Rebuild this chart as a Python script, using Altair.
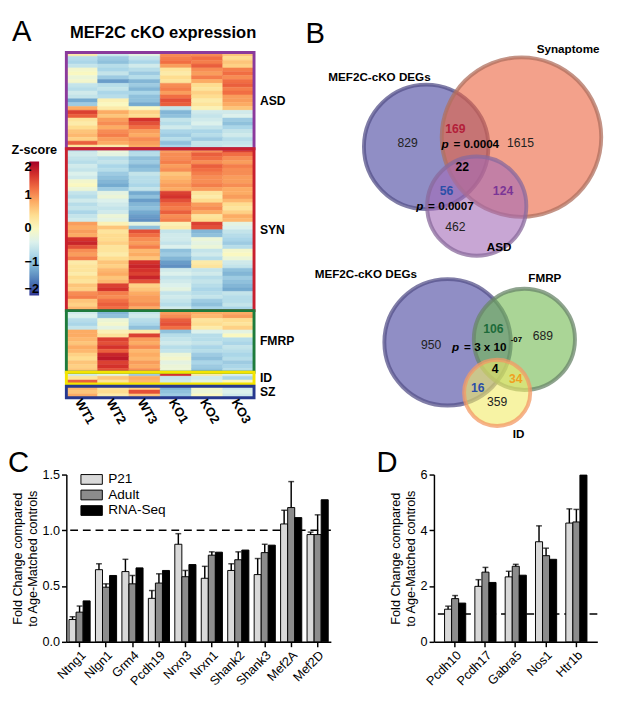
import altair as alt
import pandas as pd

FONT = "Liberation Sans"

# ---------------- Panel A: heatmap ----------------
samples = ["WT1", "WT2", "WT3", "KO1", "KO2", "KO3"]
block_names = ["ASD", "SYN", "FMRP", "ID", "SZ"]
block_colors = ["#8b3a9c", "#c8202e", "#1e7b3c", "#f4e400", "#27398f"]
block_gap_after = [0, 0, 0, 0.6, 0]

asd_z = [
    [0.2, -0.5, -0.3, 1.0, 1.0, 0.6],
    [-0.7, -0.9, -0.6, 1.1, 1.2, 0.4],
    [-0.8, -1.0, -0.8, 1.2, 1.1, 0.6],
    [-0.6, -0.7, -0.5, 0.9, 1.3, 0.5],
    [-0.1, -0.8, -0.7, 0.3, 1.0, 1.1],
    [0.0, -0.6, -0.9, 0.2, 0.9, 1.2],
    [-0.2, -0.9, -0.7, 0.4, 1.1, 1.0],
    [-0.1, -1.3, -1.1, 0.3, 0.8, 1.2],
    [-0.6, -0.7, -0.9, 1.0, 0.4, 1.3],
    [-0.7, -0.6, -1.1, 1.1, 0.3, 1.1],
    [-0.5, -0.8, -0.8, 0.9, 0.5, 1.2],
    [-0.6, -0.7, -1.0, 1.2, 0.4, 0.9],
    [-1.2, 0.1, -1.0, 1.4, 0.2, 0.9],
    [-0.9, 0.0, -1.2, 1.3, 0.3, 0.8],
    [0.8, 0.2, 0.0, -0.6, 0.1, 0.6],
    [1.5, 0.8, 0.5, -1.1, -0.5, -0.5],
    [1.3, 0.6, 0.4, -1.0, -0.6, -0.4],
    [0.3, 0.9, 1.6, -0.6, -0.5, -0.9],
    [0.2, 1.0, 1.4, -0.7, -0.4, -1.0],
    [0.4, 0.8, 1.2, -0.5, -0.6, -0.8],
    [0.6, 1.0, 0.9, -0.8, -0.8, -0.6],
    [0.7, 1.1, 0.8, -0.9, -0.7, -0.5],
    [0.5, 0.9, 1.0, -0.7, -0.9, -0.7],
    [1.3, 0.8, 0.9, -1.0, -0.6, -0.6],
    [0.3, 0.2, 0.8, -0.8, -0.6, -0.5],
]
syn_z = [
    [-0.6, -0.2, -0.8, 0.9, 1.0, 1.5],
    [-0.5, -0.3, -0.7, 1.0, 1.3, 1.2],
    [-0.6, -0.7, -1.0, 1.0, 1.2, 1.0],
    [-0.7, -0.6, -0.9, 1.1, 1.0, 0.9],
    [-0.5, -0.8, -1.1, 0.9, 1.3, 1.1],
    [-0.6, -0.7, -1.0, 1.0, 1.2, 1.0],
    [-0.4, -0.9, -0.6, 0.6, 1.1, 1.0],
    [-0.5, -1.0, -0.7, 0.7, 1.0, 0.9],
    [-0.1, -1.1, -0.7, 0.8, 1.0, 0.9],
    [0.0, -1.2, -0.8, 0.9, 1.1, 1.0],
    [-0.2, -0.9, -0.6, 0.8, 0.9, 0.8],
    [-0.6, -0.3, -1.2, 1.5, 0.3, 0.8],
    [-0.7, -0.2, -1.0, 1.6, 0.2, 0.9],
    [-0.5, -0.4, -1.3, 1.4, 0.4, 0.7],
    [-0.7, -0.5, -1.1, 1.2, 0.9, 0.4],
    [-0.6, -0.6, -1.0, 1.1, 1.0, 0.3],
    [-0.8, -0.5, -1.2, 1.3, 0.8, 0.5],
    [-0.6, -0.2, -1.3, 1.0, 0.3, 0.8],
    [-0.5, -0.3, -1.4, 1.1, 0.4, 0.7],
    [0.9, 0.1, -0.3, 0.1, 1.5, -0.3],
    [0.8, 0.6, -1.0, 0.2, 1.4, -0.4],
    [0.9, 0.3, 1.4, -0.6, -1.1, -0.6],
    [0.8, 0.4, 1.2, -0.5, -1.0, -0.7],
    [1.6, 0.4, 1.0, -0.5, -0.2, -0.8],
    [1.7, 0.5, 0.9, -0.6, -0.3, -0.9],
    [1.4, 0.3, 1.1, -0.4, -0.2, -0.7],
    [1.0, 0.3, 0.7, -1.0, -0.6, -0.1],
    [0.9, 0.2, 0.8, -0.9, -0.5, 0.0],
    [1.1, 0.4, 0.6, -1.1, -0.7, -0.2],
    [0.2, 0.6, 1.6, -1.3, 0.2, -0.5],
    [0.3, 0.5, 1.7, -1.4, 0.3, -0.6],
    [0.3, 0.7, 1.6, -0.5, -0.6, -1.0],
    [0.2, 0.8, 1.5, -0.4, -0.5, -1.1],
    [0.4, 0.6, 1.7, -0.6, -0.7, -0.9],
    [0.3, 0.7, 1.4, -0.5, -0.6, -1.0],
    [0.6, 1.5, 0.5, -0.4, -0.7, -1.1],
    [0.5, 1.6, 0.6, -0.3, -0.8, -1.2],
    [1.0, 1.1, 0.8, -0.6, -0.7, -0.6],
    [1.1, 1.0, 0.9, -0.5, -0.6, -0.7],
    [0.6, 1.2, 0.9, -0.6, -0.9, -0.7],
    [0.5, 1.3, 1.0, -0.7, -1.0, -0.6],
    [0.7, 1.2, 0.8, -0.5, -0.8, -0.8],
]
fmrp_z = [
    [-0.5, -1.1, -0.6, 0.9, 0.8, 0.8],
    [-0.4, -1.0, -0.5, 1.0, 0.7, 0.9],
    [-0.7, -0.2, -0.7, 1.3, 0.3, 0.4],
    [-0.8, -0.1, -0.8, 1.4, 0.4, 0.3],
    [-0.6, -0.3, -1.0, 1.2, 0.2, 0.5],
    [0.8, 0.1, 0.2, -1.0, -0.4, -0.3],
    [0.8, 0.3, 1.5, -0.7, -0.7, 0.0],
    [0.7, 1.5, 0.9, -0.6, -0.7, -0.7],
    [0.6, 1.4, 0.8, -0.5, -0.6, -0.8],
    [0.8, 1.6, 1.0, -0.7, -0.8, -0.6],
    [0.7, 1.3, 0.7, -0.6, -0.7, -0.7],
    [0.5, 1.7, 0.8, -0.2, -0.9, -0.8],
    [0.4, 1.8, 0.7, -0.1, -1.0, -0.7],
    [0.6, 1.5, 0.9, -0.3, -0.8, -0.9],
    [0.5, 1.6, 0.8, -0.2, -0.9, -0.8],
    [0.6, 1.4, 1.0, -0.2, -1.0, -0.7],
]
id_z = [
    [-0.5, -0.3, -0.9, 1.6, 0.2, -0.4],
    [0.3, 0.6, 0.8, -0.6, -0.5, -0.8],
    [1.3, 0.3, 0.7, -0.5, -0.3, 0.0],
]
sz_z = [
    [0.7, 0.3, 0.5, -1.1, -0.1, -0.5],
    [0.6, 0.4, 1.4, -1.0, -0.2, -0.4],
    [0.8, 0.2, 0.6, -0.9, 0.0, -0.5],
]

# ---------------- Panel B: Venn diagrams ----------------
venn_sets = ["MEF2C-cKO DEGs", "Synaptome", "ASD", "MEF2C-cKO DEGs", "FMRP", "ID"]
venn_cx = [433, 531, 485, 455, 534, 506]
venn_cy = [134, 124, 195, 335, 332, 387]
venn_r = [66, 84, 53, 67, 54, 36]
venn_fill = ["#46429f", "#eb633e", "#a36bb7", "#46429f", "#72b950", "#f2eb67"]
venn_stroke = ["#55528a", "#b0705f", "#8a6a9c", "#55528a", "#6a866a", "#f39a66"]

venn_counts = ["829", "1615", "462", "950", "689", "359"]
venn_counts_x = [414, 530, 463, 438, 553, 506]
venn_counts_y = [130, 130, 217, 338, 329, 397]

venn_overlaps = ["169", "22", "56", "124", "106", "4", "34", "16"]
venn_overlaps_x = [463, 470, 454, 512, 502, 504, 525, 486]
venn_overlaps_y = [116, 155, 180, 180, 321, 363, 373, 382]
venn_overlaps_color = ["#b3203a", "#000000", "#2b4fa8", "#7b3596", "#1d6b3a", "#000000", "#f0a020", "#2b4fa8"]

venn_labels = ["MEF2C-cKO DEGs", "Synaptome", "ASD", "MEF2C-cKO DEGs", "FMRP", "ID"]
venn_labels_x = [385, 579, 508, 371, 555, 528]
venn_labels_y = [62, 33, 237, 265, 269, 429]

pvals_rest = ["= 0.0004", "= 0.0007", "= 3 x 10"]
pvals_p_x = [456, 430, 467]
pvals_rest_x = [461, 435, 472]
pvals_y = [131, 195, 340]
pval_exponent = "-07"
pval_exponent_x = 520
pval_exponent_y = 337

# ---------------- Panels C and D: qPCR bars ----------------
series_names = ["P21", "Adult", "RNA-Seq"]
series_fill = ["#d9d9d9", "#8c8c8c", "#000000"]

genes_c = ["Ntng1", "Nlgn1", "Grm4", "Pcdh19", "Nrxn3", "Nrxn1", "Shank2", "Shank3", "Mef2A", "Mef2D"]
p21_c = [0.20, 0.647, 0.63, 0.39, 0.875, 0.57, 0.64, 0.603, 1.057, 0.962]
p21_err_c = [0.025, 0.053, 0.11, 0.07, 0.095, 0.107, 0.06, 0.144, 0.123, 0.022]
adult_c = [0.266, 0.49, 0.52, 0.527, 0.584, 0.777, 0.736, 0.80, 1.204, 0.962]
adult_err_c = [0.055, 0.03, 0.075, 0.083, 0.056, 0.03, 0.071, 0.075, 0.233, 0.177]
rnaseq_c = [0.367, 0.595, 0.663, 0.64, 0.693, 0.804, 0.823, 0.867, 1.114, 1.274]

genes_d = ["Pcdh10", "Pcdh17", "Gabra5", "Nos1", "Htr1b"]
p21_d = [1.17, 1.99, 2.33, 3.59, 4.26]
p21_err_d = [0.11, 0.24, 0.20, 0.57, 0.51]
adult_d = [1.55, 2.50, 2.71, 3.09, 4.30]
adult_err_d = [0.11, 0.17, 0.07, 0.27, 0.45]
rnaseq_d = [1.39, 2.13, 2.39, 2.96, 5.98]

reference_fold = 1.0
y_title = ["Fold Change compared", "to Age-Matched controls"]

HEAT_W, HEAT_H = 193, 355
BAR_H = 172


def text_at(txt, dx, dy, size=30, weight="normal", align="left"):
    return alt.Chart(pd.DataFrame({"t": [txt]})).mark_text(
        fontSize=size, font=FONT, align=align, baseline="alphabetic", color="black",
        fontWeight=weight,
    ).encode(x=alt.value(dx), y=alt.value(dy), text="t:N")


# ---- build panel A ----
heat_rows, border_rows = [], []
r = 0
blocks = [asd_z, syn_z, fmrp_z, id_z, sz_z]
for name, color, block, gap in zip(block_names, block_colors, blocks, block_gap_after):
    start = r
    for vals in block:
        for j, v in enumerate(vals):
            heat_rows.append({"sample": samples[j], "r0": r, "r1": r + 1, "z": v})
        r += 1
    border_rows.append({"block": name, "color": color, "b0": start, "b1": r,
                        "mid": (start + r) / 2})
    r += gap
n_rows = r
heat_df = pd.DataFrame(heat_rows)
border_df = pd.DataFrame(border_rows)

ys = alt.Scale(domain=[0, n_rows], reverse=True, nice=False, zero=False)
zscale = alt.Scale(scheme="redyellowblue", reverse=True, domain=[-2, 2])

cells = alt.Chart(heat_df).mark_rect(strokeWidth=0.5).encode(
    x=alt.X("sample:N", sort=samples, scale=alt.Scale(paddingInner=0, paddingOuter=0),
            axis=alt.Axis(labelAngle=60, labelAlign="left", labelBaseline="middle",
                          labelFontSize=13, labelFontWeight="bold", labelFont=FONT,
                          labelPadding=2, labelOffset=-4, domain=False, ticks=False,
                          title=None, labelOverlap=False, labelBound=False, grid=False)),
    y=alt.Y("r0:Q", scale=ys, axis=None),
    y2="r1:Q",
    color=alt.Color("z:Q", scale=zscale, legend=alt.Legend(
        title="Z-score", orient="none", legendX=-56, legendY=94,
        gradientLength=138, gradientThickness=10, gradientStrokeWidth=0,
        values=[2, 1, 0, -1, -2], labelOffset={"expr": "-15"}, labelAlign="right",
        labelFontSize=13, labelFontWeight="bold", labelFont=FONT,
        titleFontSize=13, titleFontWeight="bold", titleFont=FONT,
        titleAnchor="middle", titlePadding=5, direction="vertical")),
    stroke=alt.Stroke("z:Q", scale=zscale, legend=None),
)

borders = alt.Chart(border_df).mark_rect(filled=False, strokeWidth=3).encode(
    x=alt.value(0), x2=alt.value(HEAT_W), y="b0:Q", y2="b1:Q",
    stroke=alt.Stroke("color:N", scale=None),
)

block_text = alt.Chart(border_df).mark_text(
    align="left", baseline="middle", dx=6, fontSize=12.5, fontWeight="bold", font=FONT, color="black"
).encode(x=alt.value(HEAT_W), y="mid:Q", text="block:N")

panel_a = alt.layer(
    cells, borders, block_text,
    text_at("A", -56, -12),
    text_at("MEF2C cKO expression", HEAT_W / 2 + 3, -15, size=17, weight="bold", align="center"),
).resolve_scale(stroke="independent").properties(width=HEAT_W, height=HEAT_H)

# ---- build panel B ----
circ_df = pd.DataFrame({
    "set": venn_sets, "cx": venn_cx, "cy": venn_cy,
    "size": [(2 * (rr - 2)) ** 2 for rr in venn_r],
    "fill": venn_fill, "stroke": venn_stroke,
})
vx = alt.Scale(domain=[302, 612], nice=False, zero=False)
vy = alt.Scale(domain=[37, 37 + HEAT_H], reverse=True, nice=False, zero=False)

circles = alt.Chart(circ_df).mark_circle(
    opacity=1, fillOpacity=0.6, strokeOpacity=0.75, strokeWidth=4
).encode(
    x=alt.X("cx:Q", scale=vx, axis=None),
    y=alt.Y("cy:Q", scale=vy, axis=None),
    size=alt.Size("size:Q", scale=None),
    fill=alt.Fill("fill:N", scale=None),
    stroke=alt.Stroke("stroke:N", scale=None),
)

counts_df = pd.DataFrame({"t": venn_counts, "x": venn_counts_x, "y": venn_counts_y})
t_counts = alt.Chart(counts_df).mark_text(fontSize=12.5, font=FONT, color="#222222").encode(
    x="x:Q", y="y:Q", text="t:N")

ov_df = pd.DataFrame({"t": venn_overlaps, "x": venn_overlaps_x, "y": venn_overlaps_y,
                      "c": venn_overlaps_color})
t_ov = alt.Chart(ov_df).mark_text(fontSize=12.5, font=FONT, fontWeight="bold").encode(
    x="x:Q", y="y:Q", text="t:N", color=alt.Color("c:N", scale=None))

lab_df = pd.DataFrame({"t": venn_labels, "x": venn_labels_x, "y": venn_labels_y})
t_lab = alt.Chart(lab_df).mark_text(fontSize=12, font=FONT, fontWeight="bold", color="black").encode(
    x="x:Q", y="y:Q", text="t:N")

p_df = pd.DataFrame({"p": ["p"] * 3, "px": pvals_p_x, "t": pvals_rest, "tx": pvals_rest_x, "y": pvals_y})
t_p = alt.Chart(p_df).mark_text(fontSize=12, font=FONT, fontWeight="bold", fontStyle="italic",
                                color="black", align="right").encode(x="px:Q", y="y:Q", text="p:N")
t_rest = alt.Chart(p_df).mark_text(fontSize=12, font=FONT, fontWeight="bold",
                                   color="black", align="left").encode(x="tx:Q", y="y:Q", text="t:N")
exp_df = pd.DataFrame({"t": [pval_exponent], "x": [pval_exponent_x], "y": [pval_exponent_y]})
t_exp = alt.Chart(exp_df).mark_text(fontSize=8, font=FONT, fontWeight="bold", color="black",
                                    align="left", baseline="bottom").encode(x="x:Q", y="y:Q", text="t:N")

b_df = pd.DataFrame({"t": ["B"], "x": [309], "y": [27]})
t_b = alt.Chart(b_df).mark_text(fontSize=30, font=FONT, color="black", align="left",
                                baseline="alphabetic").encode(x="x:Q", y="y:Q", text="t:N")

panel_b = alt.layer(circles, t_counts, t_ov, t_lab, t_p, t_rest, t_exp, t_b).properties(
    width=310, height=HEAT_H)


# ---- build panels C and D ----
def key_entry(name, color, i):
    box = alt.Chart(pd.DataFrame({"s": [name]})).mark_rect(
        fill=color, stroke="black", strokeWidth=1).encode(
        x=alt.value(15), x2=alt.value(37), y=alt.value(0 + 16 * i), y2=alt.value(10 + 16 * i))
    lab = alt.Chart(pd.DataFrame({"s": [name]})).mark_text(
        fontSize=14, font=FONT, align="left", baseline="middle", color="black").encode(
        x=alt.value(43), y=alt.value(5 + 16 * i), text="s:N")
    return [box, lab]


def bar_panel(genes, p21, p21e, adult, adulte, rna, ymax, ticks, fmt, width,
              pad_in, pad_out, let, let_dx, show_key):
    recs = []
    for i, g in enumerate(genes):
        recs.append({"gene": g, "series": "P21", "value": p21[i], "err": p21e[i]})
        recs.append({"gene": g, "series": "Adult", "value": adult[i], "err": adulte[i]})
        recs.append({"gene": g, "series": "RNA-Seq", "value": rna[i], "err": 0.0})
    df = pd.DataFrame(recs)
    df["top"] = df["value"] + df["err"]

    x = alt.X("gene:N", sort=genes, title=None,
              scale=alt.Scale(paddingInner=pad_in, paddingOuter=pad_out),
              axis=alt.Axis(labelAngle=-45, labelFontSize=13, labelFont=FONT, tickSize=5,
                            tickWidth=1.5, domainWidth=1.5, labelPadding=2, labelAlign="right",
                            labelBaseline="top"))
    xo = alt.XOffset("series:N", sort=series_names, scale=alt.Scale(paddingInner=0, paddingOuter=0))
    y = alt.Y("value:Q", scale=alt.Scale(domain=[0, ymax], nice=False),
              axis=alt.Axis(values=ticks, format=fmt, title=y_title, titleFontSize=13,
                            titleFontWeight="normal", titleFont=FONT, labelFontSize=13,
                            labelFont=FONT, tickSize=5, tickWidth=1.5, domainWidth=1.5,
                            grid=False, titlePadding=3, labelPadding=2))
    fill = alt.Fill("series:N", scale=alt.Scale(domain=series_names, range=series_fill),
                    legend=None)

    ref = alt.Chart(pd.DataFrame({"v": [reference_fold]})).mark_rule(
        strokeDash=[8, 5], strokeWidth=1.5, color="black").encode(y="v:Q")
    bars = alt.Chart(df).mark_bar(stroke="black", strokeWidth=1).encode(
        x=x, xOffset=xo, y=y, fill=fill)
    errdf = df[df["err"] > 0]
    err = alt.Chart(errdf).mark_rule(color="black", strokeWidth=1.5).encode(
        x=alt.X("gene:N", sort=genes), xOffset=alt.XOffset("series:N", sort=series_names),
        y="value:Q", y2="top:Q")
    cap = alt.Chart(errdf).mark_tick(color="black", thickness=1.5, size=6, orient="horizontal").encode(
        x=alt.X("gene:N", sort=genes), xOffset=alt.XOffset("series:N", sort=series_names),
        y="top:Q")
    layers = [ref, bars, err, cap, text_at(let, let_dx, -3)]
    if show_key:
        for i, (nm, col) in enumerate(zip(series_names, series_fill)):
            layers += key_entry(nm, col, i)
    return alt.layer(*layers).properties(width=width, height=BAR_H)


panel_c = bar_panel(genes_c, p21_c, p21_err_c, adult_c, adult_err_c, rnaseq_c,
                    1.5, [0, 0.5, 1.0, 1.5], ".1f", 272, 0.2, 0.1, "C", -60, True)
panel_d = bar_panel(genes_d, p21_d, p21_err_d, adult_d, adult_err_d, rnaseq_d,
                    6, [0, 2, 4, 6], "d", 168, 0.31, 0.35, "D", -59, False)

top = alt.hconcat(panel_a, panel_b, spacing=4)
bottom = alt.hconcat(panel_c, panel_d, spacing=46)

chart = alt.vconcat(top, bottom, spacing=8).configure(
    font=FONT, padding=0
).configure_view(stroke=None).configure_axis(
    domainColor="black", tickColor="black", labelColor="black", titleColor="black", grid=False
)

chart.save("out.html", embed_options={"renderer": "svg", "actions": False})
